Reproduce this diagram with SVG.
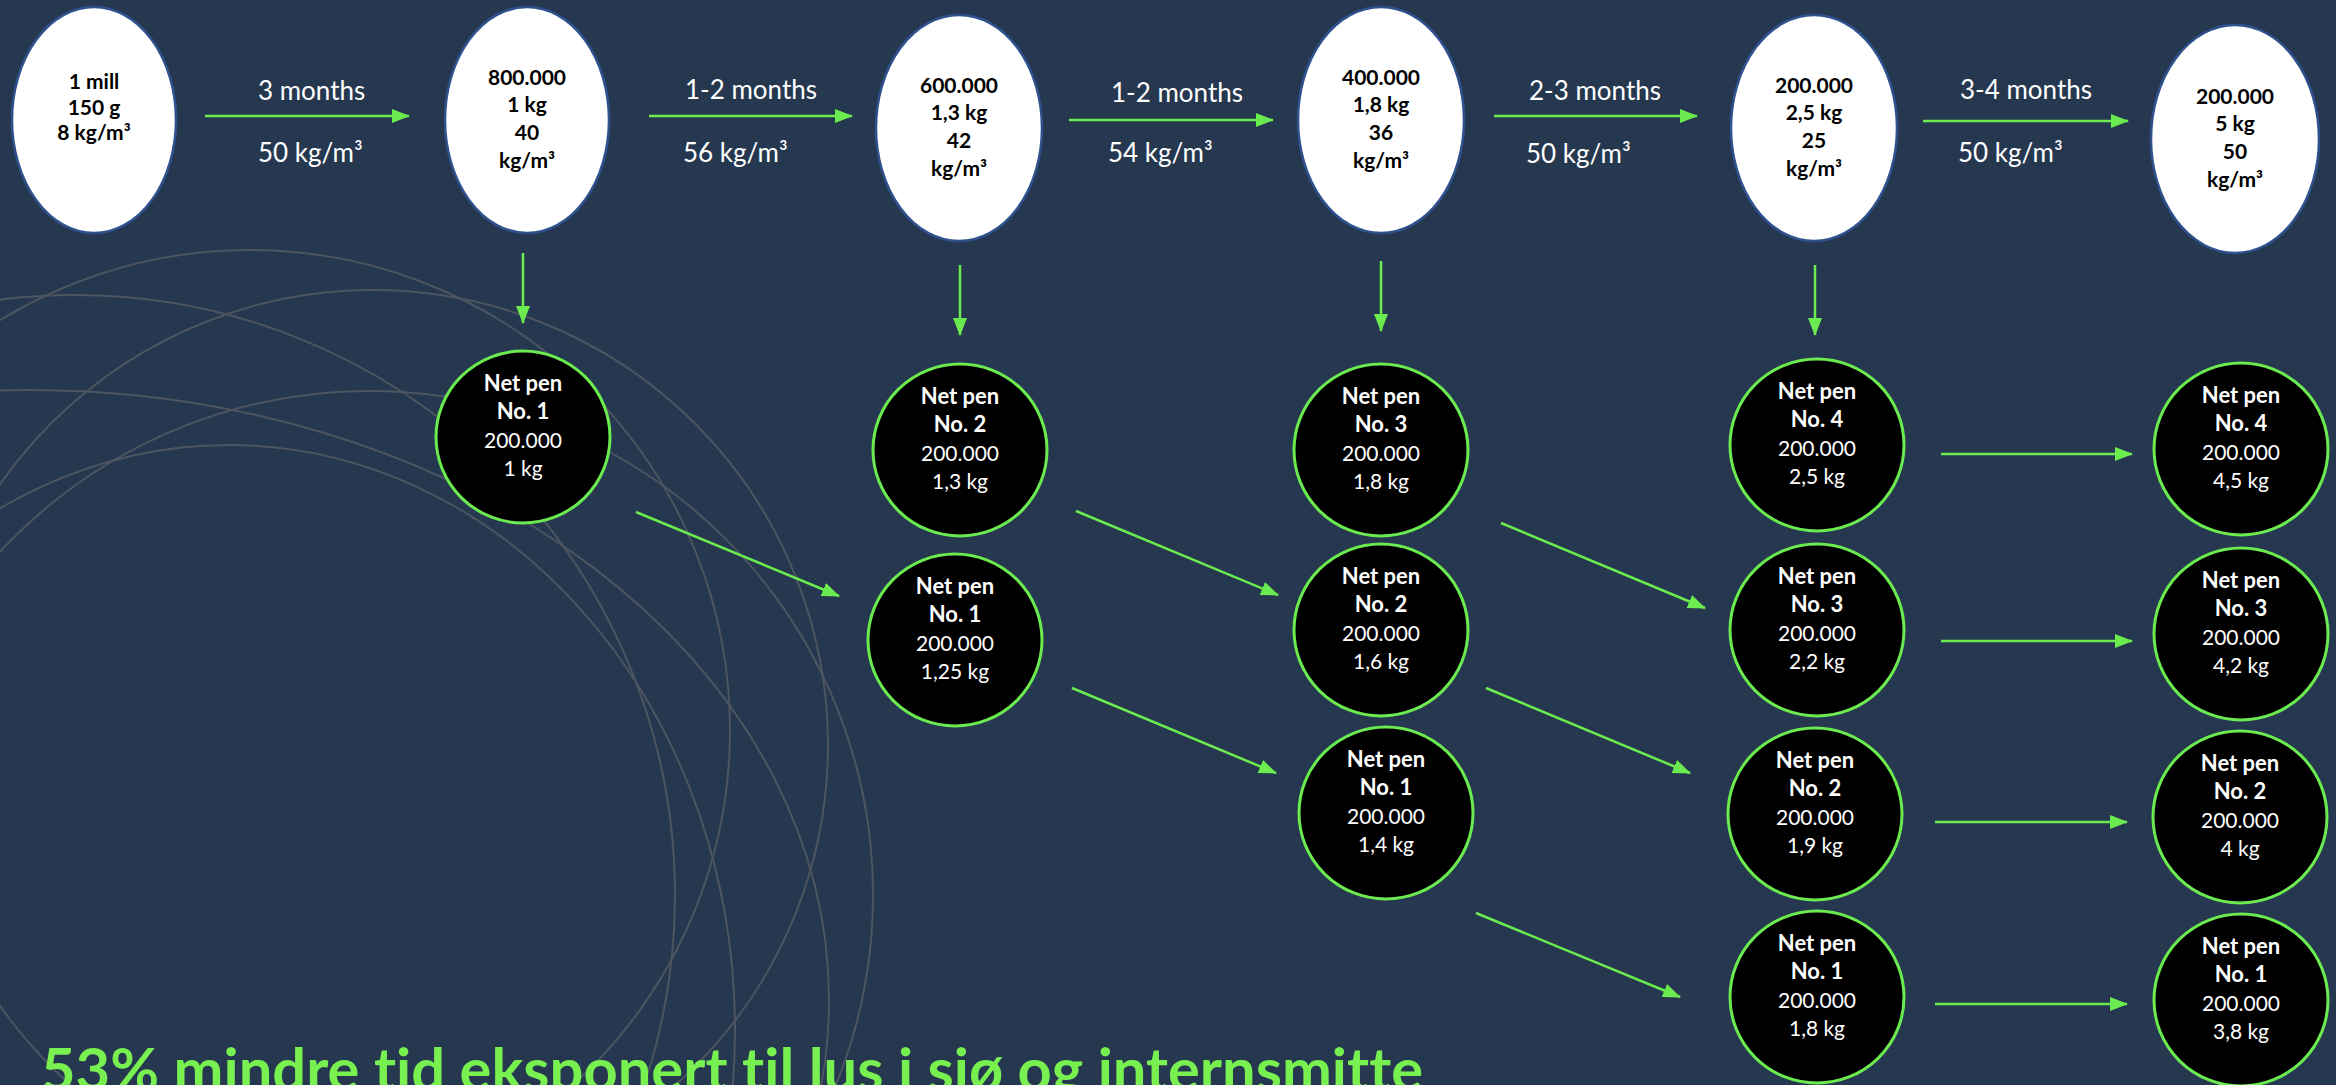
<svg xmlns="http://www.w3.org/2000/svg" width="2336" height="1085" viewBox="0 0 2336 1085">
<style>
.bg{fill:#263850}
.deco{fill:none;stroke:#4C5560;stroke-width:2}
.top ellipse{fill:#ffffff;stroke:#2F528F;stroke-width:2.5}
.top text{font-family:Lato,"Open Sans",sans-serif;font-weight:700;font-size:21px;fill:#000000;text-anchor:middle}
.pen ellipse{fill:#000000;stroke:#6BEB4F;stroke-width:3}
.pen text{font-family:Lato,"Open Sans",sans-serif;font-size:21px;fill:#ffffff;text-anchor:middle}
.pen text.b{font-weight:700;font-size:22px}
.lbl{font-family:Lato,"Open Sans",sans-serif;font-size:26px;fill:#ffffff}
.arr{stroke:#6BEB4F;stroke-width:2.5;fill:none;marker-end:url(#ah)}
.title{font-family:Lato,"Open Sans",sans-serif;font-weight:700;font-size:60px;fill:#78F050;font-variant-ligatures:none}
</style>
<defs>
<marker id="ah" markerUnits="userSpaceOnUse" markerWidth="18" markerHeight="16" refX="17" refY="7" orient="auto">
<path d="M0,0 L18,7 L0,14 Z" fill="#6BEB4F"/>
</marker>
</defs>
<rect class="bg" x="0" y="0" width="2336" height="1085"/>
<g id="decoration">
<circle class="deco" cx="75" cy="895" r="600"/>
<circle class="deco" cx="250" cy="730" r="480"/>
<circle class="deco" cx="373" cy="745" r="455"/>
<circle class="deco" cx="369" cy="895" r="504"/>
<ellipse class="deco" cx="229" cy="1030" rx="506" ry="585"/>
<ellipse class="deco" cx="29" cy="1000" rx="800" ry="610"/>
</g>
<g id="connectors">
<line class="arr" x1="205" y1="116" x2="409" y2="116"/>
<line class="arr" x1="649" y1="116" x2="852" y2="116"/>
<line class="arr" x1="1069" y1="120" x2="1273" y2="120"/>
<line class="arr" x1="1494" y1="116" x2="1697" y2="116"/>
<line class="arr" x1="1923" y1="121" x2="2128" y2="121"/>
<line class="arr" x1="523" y1="253" x2="523" y2="323"/>
<line class="arr" x1="960" y1="265" x2="960" y2="335"/>
<line class="arr" x1="1381" y1="261" x2="1381" y2="331"/>
<line class="arr" x1="1815" y1="265" x2="1815" y2="335"/>
<line class="arr" x1="636" y1="512" x2="839" y2="596"/>
<line class="arr" x1="1076" y1="511" x2="1278" y2="595"/>
<line class="arr" x1="1072" y1="688" x2="1276" y2="773"/>
<line class="arr" x1="1501" y1="523" x2="1705" y2="608"/>
<line class="arr" x1="1486" y1="688" x2="1690" y2="773"/>
<line class="arr" x1="1476" y1="913" x2="1680" y2="997"/>
<line class="arr" x1="1941" y1="454" x2="2132" y2="454"/>
<line class="arr" x1="1941" y1="641" x2="2132" y2="641"/>
<line class="arr" x1="1935" y1="822" x2="2127" y2="822"/>
<line class="arr" x1="1935" y1="1004" x2="2127" y2="1004"/>
</g>
<g id="labels">
<text class="lbl" x="258" y="100">3 months</text>
<text class="lbl" x="258" y="162">50 kg/m³</text>
<text class="lbl" x="685" y="99">1-2 months</text>
<text class="lbl" x="683" y="162">56 kg/m³</text>
<text class="lbl" x="1111" y="102">1-2 months</text>
<text class="lbl" x="1108" y="162">54 kg/m³</text>
<text class="lbl" x="1529" y="100">2-3 months</text>
<text class="lbl" x="1526" y="163">50 kg/m³</text>
<text class="lbl" x="1960" y="99">3-4 months</text>
<text class="lbl" x="1958" y="162">50 kg/m³</text>
</g>
<g id="stage1" class="top"><ellipse cx="94" cy="120" rx="82" ry="113"/><text x="94" y="89">1 mill</text><text x="94" y="115">150 g</text><text x="94" y="140">8 kg/m³</text></g>
<g id="stage2" class="top"><ellipse cx="527" cy="120" rx="82" ry="113"/><text x="527" y="85">800.000</text><text x="527" y="112">1 kg</text><text x="527" y="140">40</text><text x="527" y="168">kg/m³</text></g>
<g id="stage3" class="top"><ellipse cx="959" cy="128" rx="83" ry="113"/><text x="959" y="93">600.000</text><text x="959" y="120">1,3 kg</text><text x="959" y="148">42</text><text x="959" y="176">kg/m³</text></g>
<g id="stage4" class="top"><ellipse cx="1381" cy="120" rx="83" ry="113"/><text x="1381" y="85">400.000</text><text x="1381" y="112">1,8 kg</text><text x="1381" y="140">36</text><text x="1381" y="168">kg/m³</text></g>
<g id="stage5" class="top"><ellipse cx="1814" cy="128" rx="83" ry="113"/><text x="1814" y="93">200.000</text><text x="1814" y="120">2,5 kg</text><text x="1814" y="148">25</text><text x="1814" y="176">kg/m³</text></g>
<g id="stage6" class="top"><ellipse cx="2235" cy="139" rx="84" ry="114"/><text x="2235" y="104">200.000</text><text x="2235" y="131">5 kg</text><text x="2235" y="159">50</text><text x="2235" y="187">kg/m³</text></g>

<g id="pen-c1-1" class="pen"><ellipse cx="523" cy="437" rx="87" ry="86"/><text class="b" x="523" y="391">Net pen</text><text class="b" x="523" y="419">No. 1</text><text x="523" y="448">200.000</text><text x="523" y="476">1 kg</text></g>
<g id="pen-c2-2" class="pen"><ellipse cx="960" cy="450" rx="87" ry="86"/><text class="b" x="960" y="404">Net pen</text><text class="b" x="960" y="432">No. 2</text><text x="960" y="461">200.000</text><text x="960" y="489">1,3 kg</text></g>
<g id="pen-c2-1" class="pen"><ellipse cx="955" cy="640" rx="87" ry="86"/><text class="b" x="955" y="594">Net pen</text><text class="b" x="955" y="622">No. 1</text><text x="955" y="651">200.000</text><text x="955" y="679">1,25 kg</text></g>
<g id="pen-c3-3" class="pen"><ellipse cx="1381" cy="450" rx="87" ry="86"/><text class="b" x="1381" y="404">Net pen</text><text class="b" x="1381" y="432">No. 3</text><text x="1381" y="461">200.000</text><text x="1381" y="489">1,8 kg</text></g>
<g id="pen-c3-2" class="pen"><ellipse cx="1381" cy="630" rx="87" ry="86"/><text class="b" x="1381" y="584">Net pen</text><text class="b" x="1381" y="612">No. 2</text><text x="1381" y="641">200.000</text><text x="1381" y="669">1,6 kg</text></g>
<g id="pen-c3-1" class="pen"><ellipse cx="1386" cy="813" rx="87" ry="86"/><text class="b" x="1386" y="767">Net pen</text><text class="b" x="1386" y="795">No. 1</text><text x="1386" y="824">200.000</text><text x="1386" y="852">1,4 kg</text></g>
<g id="pen-c4-4" class="pen"><ellipse cx="1817" cy="445" rx="87" ry="86"/><text class="b" x="1817" y="399">Net pen</text><text class="b" x="1817" y="427">No. 4</text><text x="1817" y="456">200.000</text><text x="1817" y="484">2,5 kg</text></g>
<g id="pen-c4-3" class="pen"><ellipse cx="1817" cy="630" rx="87" ry="86"/><text class="b" x="1817" y="584">Net pen</text><text class="b" x="1817" y="612">No. 3</text><text x="1817" y="641">200.000</text><text x="1817" y="669">2,2 kg</text></g>
<g id="pen-c4-2" class="pen"><ellipse cx="1815" cy="814" rx="87" ry="86"/><text class="b" x="1815" y="768">Net pen</text><text class="b" x="1815" y="796">No. 2</text><text x="1815" y="825">200.000</text><text x="1815" y="853">1,9 kg</text></g>
<g id="pen-c4-1" class="pen"><ellipse cx="1817" cy="997" rx="87" ry="86"/><text class="b" x="1817" y="951">Net pen</text><text class="b" x="1817" y="979">No. 1</text><text x="1817" y="1008">200.000</text><text x="1817" y="1036">1,8 kg</text></g>
<g id="pen-c5-4" class="pen"><ellipse cx="2241" cy="449" rx="87" ry="86"/><text class="b" x="2241" y="403">Net pen</text><text class="b" x="2241" y="431">No. 4</text><text x="2241" y="460">200.000</text><text x="2241" y="488">4,5 kg</text></g>
<g id="pen-c5-3" class="pen"><ellipse cx="2241" cy="634" rx="87" ry="86"/><text class="b" x="2241" y="588">Net pen</text><text class="b" x="2241" y="616">No. 3</text><text x="2241" y="645">200.000</text><text x="2241" y="673">4,2 kg</text></g>
<g id="pen-c5-2" class="pen"><ellipse cx="2240" cy="817" rx="87" ry="86"/><text class="b" x="2240" y="771">Net pen</text><text class="b" x="2240" y="799">No. 2</text><text x="2240" y="828">200.000</text><text x="2240" y="856">4 kg</text></g>
<g id="pen-c5-1" class="pen"><ellipse cx="2241" cy="1000" rx="87" ry="86"/><text class="b" x="2241" y="954">Net pen</text><text class="b" x="2241" y="982">No. 1</text><text x="2241" y="1011">200.000</text><text x="2241" y="1039">3,8 kg</text></g>

<text class="title" x="41" y="1091" textLength="1382" lengthAdjust="spacingAndGlyphs">53% mindre tid eksponert til lus i sjø og internsmitte</text>
</svg>
